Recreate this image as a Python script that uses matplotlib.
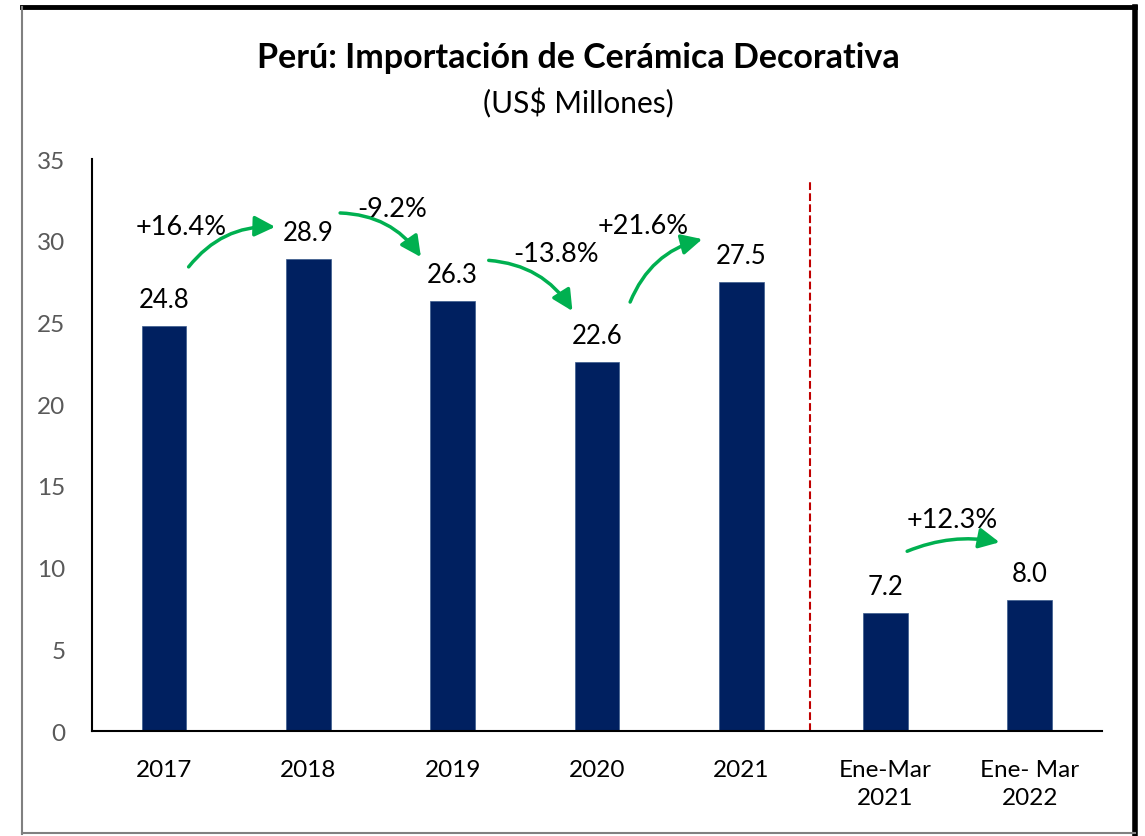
import matplotlib.pyplot as plt
from matplotlib.lines import Line2D

categories = ['2017', '2018', '2019', '2020', '2021', 'Ene-Mar\n2021', 'Ene- Mar\n2022']
values = [24.8, 28.9, 26.3, 22.6, 27.5, 7.2, 8.0]
value_labels = ['24.8', '28.9', '26.3', '22.6', '27.5', '7.2', '8.0']

# growth arrows: (start x, start y, end x, end y, label, label x, label y, curvature)
growth = [
    (0.17, 28.4, 0.77, 30.85, '+16.4%', 0.12, 30.85, -0.25),
    (1.22, 31.7, 1.78, 29.0, '-9.2%', 1.58, 31.95, -0.25),
    (2.25, 28.8, 2.83, 25.7, '-13.8%', 2.72, 29.2, -0.25),
    (3.23, 26.25, 3.73, 30.1, '+21.6%', 3.32, 30.95, -0.25),
    (5.15, 11.0, 5.79, 11.55, '+12.3%', 5.46, 12.95, -0.15),
]

plt.rcParams['font.family'] = ['Lato', 'DejaVu Sans']

fig = plt.figure(figsize=(11.45, 8.37), dpi=100)
ax = fig.add_axes([0.0803, 0.1254, 0.8821, 0.6834])

x = list(range(len(categories)))
ax.bar(x, values, width=0.31, color='#002060', edgecolor='#3a5a8c', linewidth=0.5)

for xi, v, lab in zip(x, values, value_labels):
    ax.annotate(lab, (xi, v), xytext=(0, 10), textcoords='offset points',
                ha='center', va='bottom', fontsize=18.5)

for x0, y0, x1, y1, lab, tx, ty, rad in growth:
    ax.annotate('', xy=(x1, y1), xytext=(x0, y0),
                arrowprops=dict(arrowstyle='-|>', color='#00B050', lw=2.5,
                                mutation_scale=31, shrinkA=0, shrinkB=0,
                                connectionstyle=f'arc3,rad={rad}'))
    ax.text(tx, ty, lab, ha='center', va='center', fontsize=19.5)

ax.plot([4.48, 4.48], [0, 33.65], color='#C00000', linestyle='--', lw=1.5)

ax.set_xlim(-0.5, 6.5)
ax.set_ylim(0, 35)
ax.set_yticks(range(0, 36, 5))
ax.set_xticks(x)
ax.set_xticklabels(categories, fontsize=17.5, linespacing=1.4)
ax.tick_params(axis='y', labelsize=17.5, labelcolor='#595959', length=0, pad=19)
ax.tick_params(axis='x', length=0, pad=20)
for s in ['top', 'right']:
    ax.spines[s].set_visible(False)
ax.spines['left'].set_linewidth(1.5)
ax.spines['bottom'].set_linewidth(1.5)

fig.text(0.505, 0.931, 'Perú: Importación de Cerámica Decorativa', ha='center', va='center',
         fontsize=24.5, fontweight='bold')
fig.text(0.505, 0.876, '(US$ Millones)', ha='center', va='center', fontsize=21.5)

# frame: thick black top/right, thin grey left/bottom
fig.add_artist(Line2D([0.019, 0.991], [0.990, 0.990], color='black', lw=3.5))
fig.add_artist(Line2D([0.991, 0.991], [0.002, 0.990], color='black', lw=4))
fig.add_artist(Line2D([0.019, 0.019], [0.002, 0.990], color='#808080', lw=1.5))
fig.add_artist(Line2D([0.019, 0.991], [0.003, 0.003], color='#808080', lw=1.5))

fig.savefig('out.png', dpi=100)
